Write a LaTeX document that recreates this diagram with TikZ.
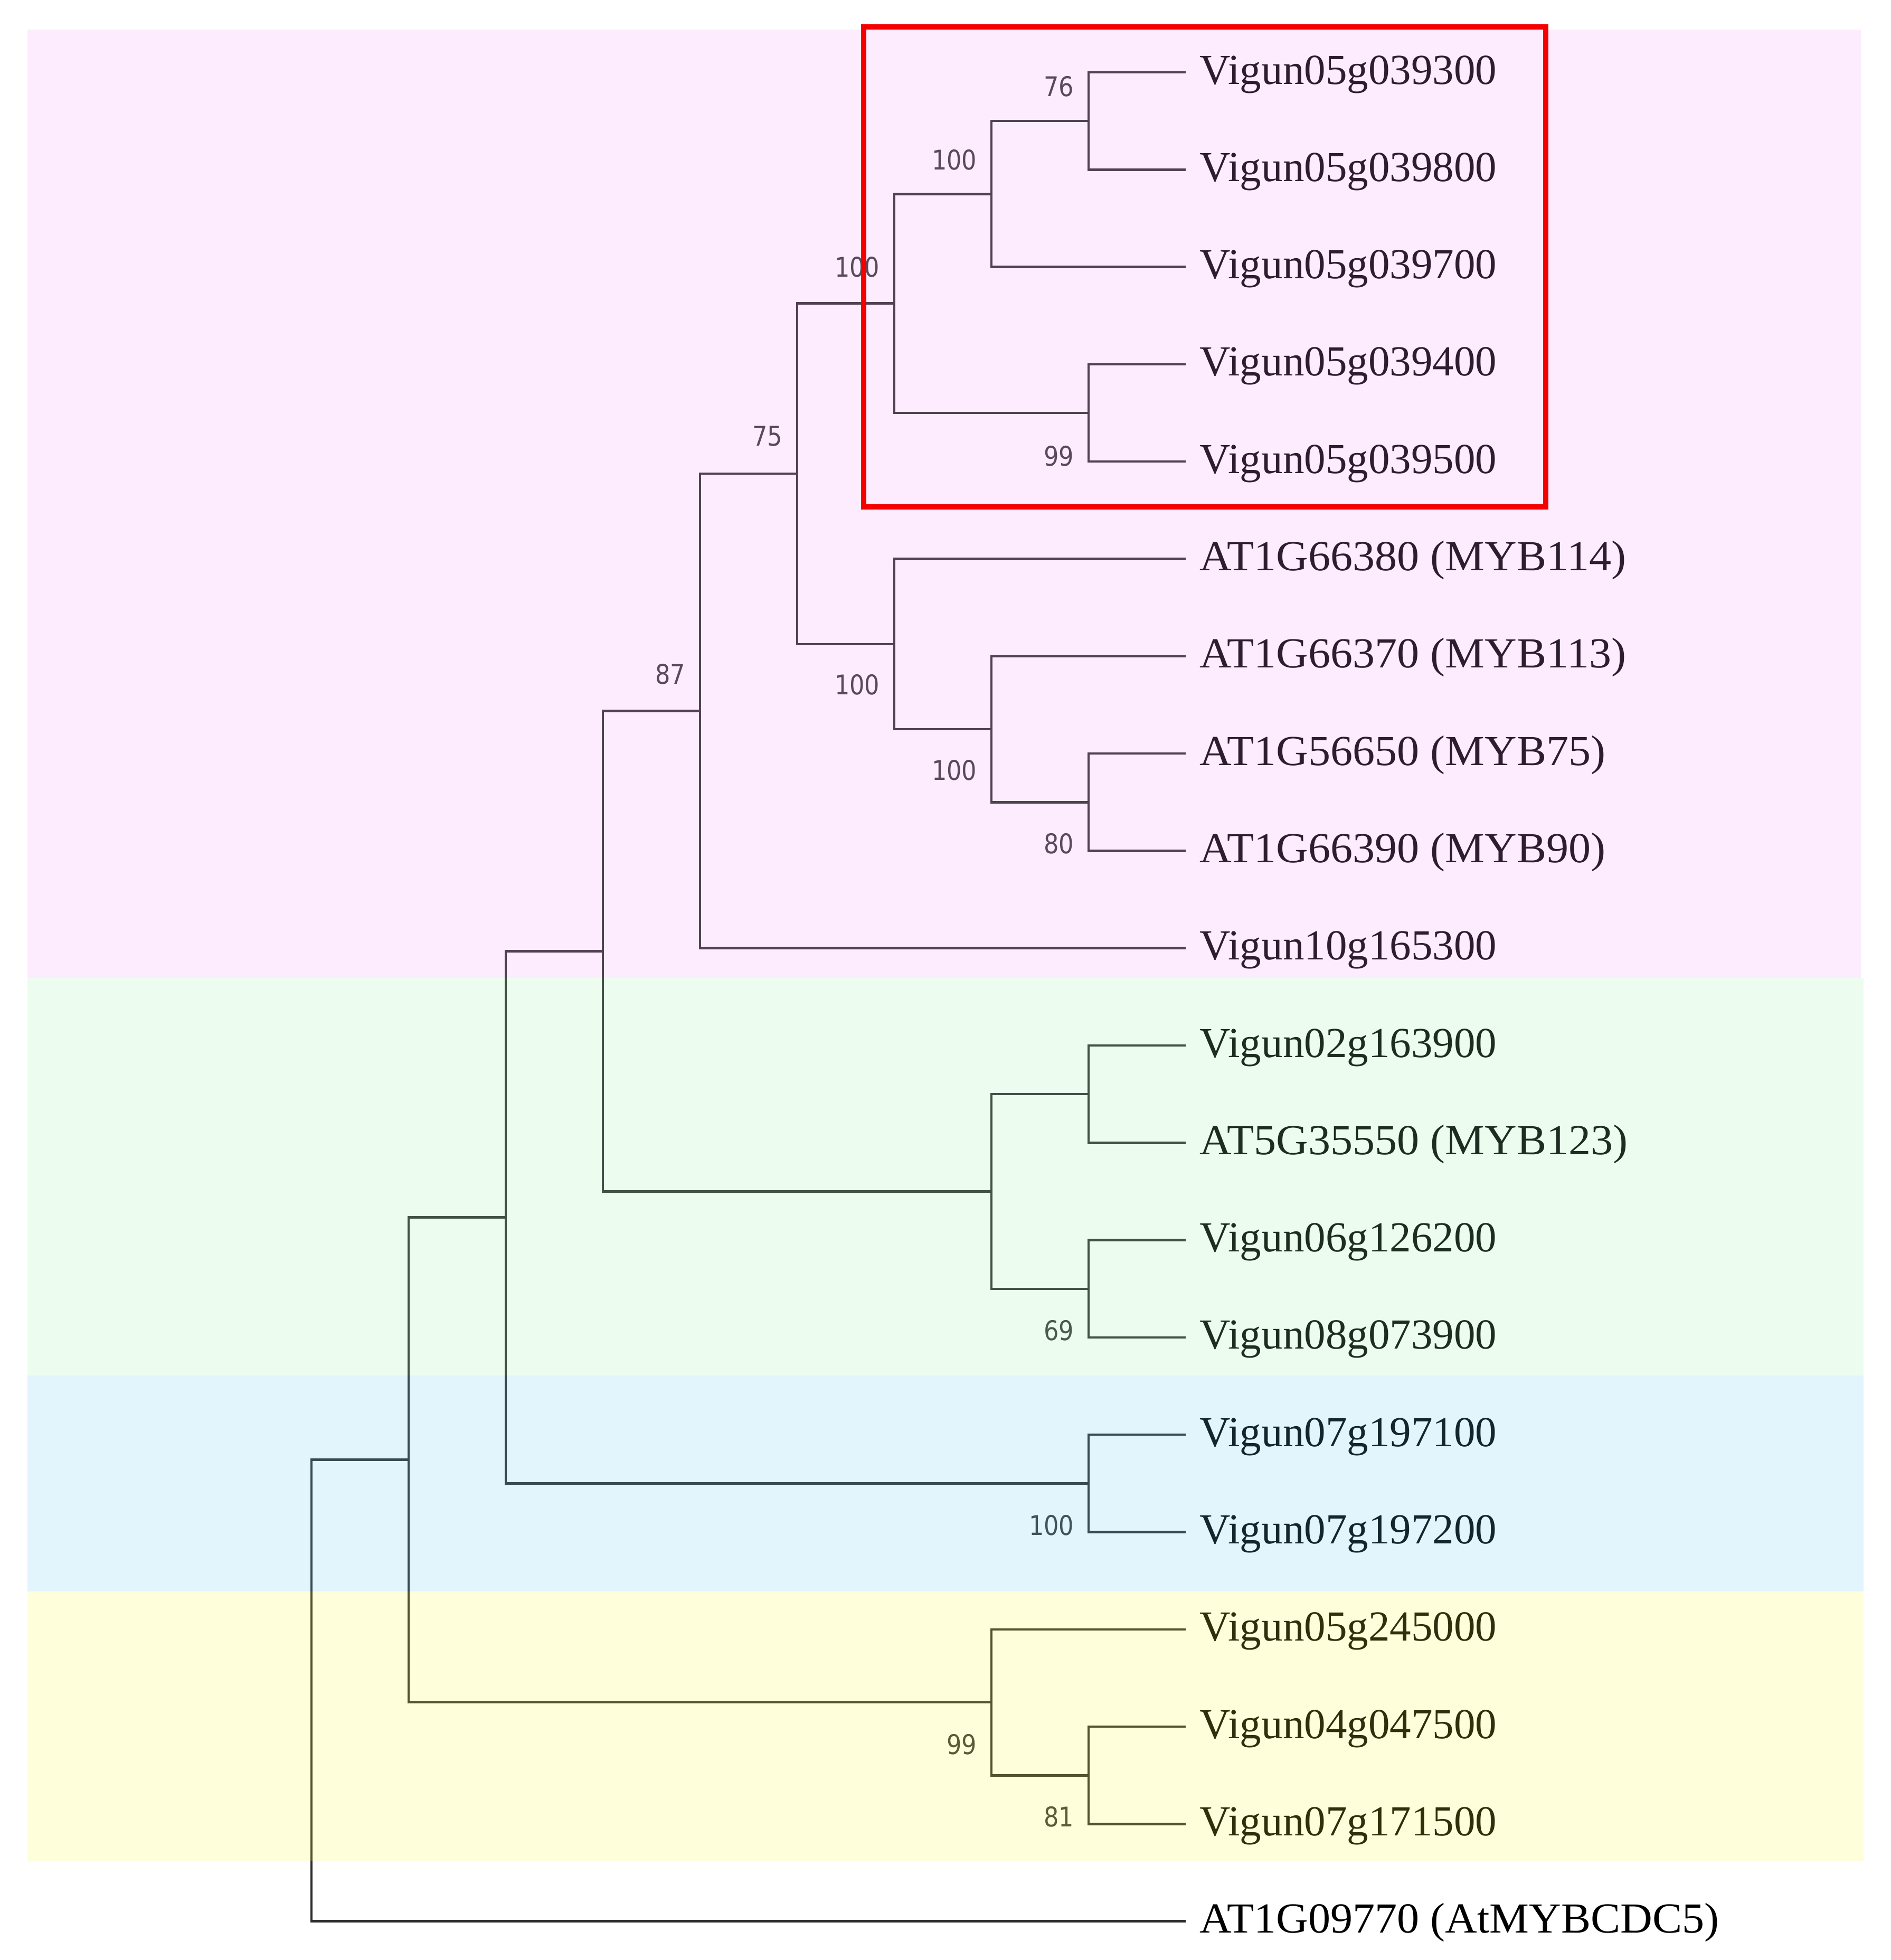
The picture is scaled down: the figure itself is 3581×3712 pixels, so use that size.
\documentclass[tikz,border=0pt]{standalone}
\usepackage{fontspec}
\setmainfont{Liberation Serif}
\newfontfamily\bsfont[FakeStretch=0.87]{DejaVu Sans}
\definecolor{pinkov}{RGB}{245,155,245}
\definecolor{greenov}{RGB}{155,245,180}
\definecolor{blueov}{RGB}{105,205,245}
\definecolor{yellowov}{RGB}{250,250,65}
\definecolor{branchcol}{RGB}{45,45,45}
\definecolor{bscol}{RGB}{55,55,55}
\definecolor{boxred}{RGB}{245,0,0}
\newcommand{\wideAT}[1]{\scalebox{1.038}[1]{#1}}
\tikzset{
  br/.style={draw=branchcol, line width=0.045cm, line join=miter},
  leaflab/.style={anchor=base west, inner sep=0pt, text=black, font=\fontsize{23.05}{27}\selectfont},
  bslab/.style={anchor=base east, inner sep=0pt, text=bscol, font=\bsfont\fontsize{14.6}{17}\selectfont},
  band/.style={opacity=0.19},
}
\begin{document}
\begin{tikzpicture}[x=0.01cm, y=-0.01cm]
\useasboundingbox (0,0) rectangle (3581,3712);
\fill[white] (0,0) rectangle (3581,3712);

% leaf tips
\foreach \i in {1,...,20} {
  \coordinate (t\i) at (2246, {137+184.3*(\i-1)});
}
% internal nodes
\coordinate (J) at (2062, 229.15);
\coordinate (H) at (1878, 367.4);
\coordinate (I) at (2062, 782.05);
\coordinate (F) at (1694, 574.7);
\coordinate (L) at (2062, 1519.25);
\coordinate (K) at (1878, 1381.0);
\coordinate (G) at (1694, 1219.8);
\coordinate (E) at (1510, 897.2);
\coordinate (D) at (1326, 1346.5);
\coordinate (M) at (2062, 2072.15);
\coordinate (N) at (2062, 2440.75);
\coordinate (O) at (1878, 2256.45);
\coordinate (C) at (1142, 1801.5);
\coordinate (P) at (2062, 2809.35);
\coordinate (B) at (958, 2305.4);
\coordinate (Q) at (2062, 3362.25);
\coordinate (R) at (1878, 3224.0);
\coordinate (A) at (774, 2764.7);
\coordinate (Root) at (590, 3201.7);

% branches
\draw[br] (J) |- (t1);  \draw[br] (J) |- (t2);
\draw[br] (H) |- (J);   \draw[br] (H) |- (t3);
\draw[br] (I) |- (t4);  \draw[br] (I) |- (t5);
\draw[br] (F) |- (H);   \draw[br] (F) |- (I);
\draw[br] (L) |- (t8);  \draw[br] (L) |- (t9);
\draw[br] (K) |- (t7);  \draw[br] (K) |- (L);
\draw[br] (G) |- (t6);  \draw[br] (G) |- (K);
\draw[br] (E) |- (F);   \draw[br] (E) |- (G);
\draw[br] (D) |- (E);   \draw[br] (D) |- (t10);
\draw[br] (M) |- (t11); \draw[br] (M) |- (t12);
\draw[br] (N) |- (t13); \draw[br] (N) |- (t14);
\draw[br] (O) |- (M);   \draw[br] (O) |- (N);
\draw[br] (C) |- (D);   \draw[br] (C) |- (O);
\draw[br] (P) |- (t15); \draw[br] (P) |- (t16);
\draw[br] (B) |- (C);   \draw[br] (B) |- (P);
\draw[br] (Q) |- (t18); \draw[br] (Q) |- (t19);
\draw[br] (R) |- (t17); \draw[br] (R) |- (Q);
\draw[br] (A) |- (B);   \draw[br] (A) |- (R);
\draw[br] (Root) |- (A); \draw[br] (Root) |- (t20);

% leaf labels
\foreach \i/\txt in {1/Vigun05g039300, 2/Vigun05g039800, 3/Vigun05g039700, 4/Vigun05g039400, 5/Vigun05g039500,
  6/\wideAT{AT1G66380 (MYB114)}, 7/\wideAT{AT1G66370 (MYB113)}, 8/\wideAT{AT1G56650 (MYB75)}, 9/\wideAT{AT1G66390 (MYB90)}, 10/Vigun10g165300,
  11/Vigun02g163900, 12/\wideAT{AT5G35550 (MYB123)}, 13/Vigun06g126200, 14/Vigun08g073900, 15/Vigun07g197100,
  16/Vigun07g197200, 17/Vigun05g245000, 18/Vigun04g047500, 19/Vigun07g171500, 20/\wideAT{AT1G09770 (AtMYBCDC5)}} {
  \node[leaflab] (lab\i) at ([xshift=0.26cm, yshift=-0.22cm]t\i) {\txt};
}

% bootstrap values
\node[bslab] (bJ) at (2035, 182.5) {76};
\node[bslab] (bH) at (1851, 321.5) {100};
\node[bslab] (bF) at (1667, 524.5) {100};
\node[bslab] (bI) at (2035, 882.5) {99};
\node[bslab] (bE) at (1483, 844.5) {75};
\node[bslab] (bD) at (1299, 1295.5) {87};
\node[bslab] (bG) at (1667, 1315.5) {100};
\node[bslab] (bK) at (1851, 1477.5) {100};
\node[bslab] (bL) at (2035, 1616.5) {80};
\node[bslab] (bN) at (2035, 2538.5) {69};
\node[bslab] (bP) at (2035, 2907.5) {100};
\node[bslab] (bR) at (1851, 3322.5) {99};
\node[bslab] (bQ) at (2035, 3459.5) {81};

% coloured bands (overlay)
\fill[pinkov, band] (52,56) rectangle (3525,1852);
\fill[greenov, band] (52,1852) rectangle (3530,2605);
\fill[blueov, band] (52,2605) rectangle (3530,3014);
\fill[yellowov, band] (52,3014) rectangle (3530,3524);

% highlight box
\draw[boxred, line width=0.1cm] (1636,51) rectangle (2928,960);
\end{tikzpicture}
\end{document}
